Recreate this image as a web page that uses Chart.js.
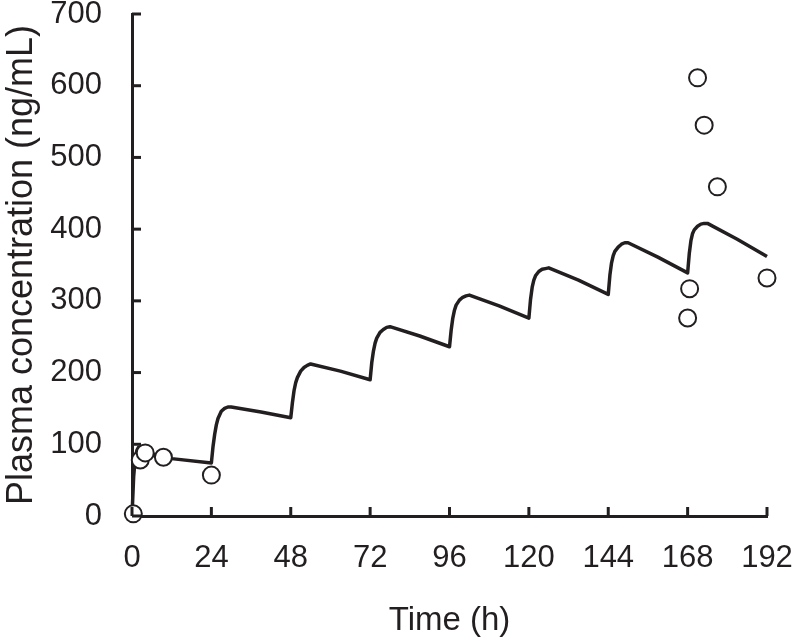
<!DOCTYPE html>
<html>
<head>
<meta charset="utf-8">
<script src="https://cdn.jsdelivr.net/npm/chart.js@4/dist/chart.umd.min.js"></script>
<style>
html,body{margin:0;padding:0;background:#fff;}
#wrap{width:794px;height:641px;position:relative;}
</style>
</head>
<body>
<div id="wrap"><canvas id="c" width="794" height="641"></canvas></div>
<script>
// Simulated (model) concentration curve
const simTime = [
  0, 0.5, 1, 1.5, 2, 3, 5, 8, 12, 24,
  24.5, 25, 25.5, 26, 27, 28, 29, 30, 39, 48,
  48.5, 49, 49.5, 50, 51, 52, 53, 54, 63, 72,
  72.5, 73, 73.5, 74, 75, 76, 77, 78, 87, 96,
  96.5, 97, 97.5, 98, 99, 100, 101, 102, 111, 120,
  120.5, 121, 121.5, 122, 123, 124, 125, 126, 135, 144,
  144.5, 145, 145.5, 146, 147, 148, 149, 150, 159, 168,
  168.5, 169, 169.5, 170, 171, 172, 173, 174, 183, 192
];
const simConc = [
  0, 55, 82, 92, 96, 95, 89, 83, 80, 74,
  97, 114, 127, 136, 146, 150, 152, 152, 145, 137,
  158, 175, 186, 193, 202, 207, 210, 212, 202, 190,
  214, 230, 241, 248, 256, 260, 263, 264, 251, 236,
  259, 276, 287, 294, 301, 305, 307, 308, 293, 276,
  302, 319, 329, 335, 341, 344, 345, 346, 329, 309,
  336, 353, 363, 369, 375, 379, 381, 381, 361, 339,
  366, 384, 394, 399, 404, 407, 408, 408, 386, 362
];
// Observed concentrations (open circles)
const obsTime = [0.4, 2.5, 4, 9.5, 24, 168, 168.6, 171, 173, 177, 192];
const obsConc = [3, 78, 88, 82, 57, 276, 317, 611, 545, 459, 332];

const xTicks = [0, 24, 48, 72, 96, 120, 144, 168, 192];
const yTicks = [0, 100, 200, 300, 400, 500, 600, 700];
const xTitle = 'Time (h)';
const yTitle = 'Plasma concentration (ng/mL)';

const INK = '#231f20';
const FONT = '"Liberation Sans", Arial, sans-serif';

const simData = simTime.map((t, i) => ({x: t, y: simConc[i]}));
const obsData = obsTime.map((t, i) => ({x: t, y: obsConc[i]}));

const inwardTicks = {
  id: 'inwardTicks',
  afterDatasetsDraw(chart) {
    const ctx = chart.ctx;
    const xs = chart.scales.x, ys = chart.scales.y;
    const a = chart.chartArea;
    ctx.save();
    ctx.strokeStyle = INK;
    ctx.lineWidth = 3;
    ctx.lineCap = 'butt';
    xTicks.forEach(v => {
      const px = xs.getPixelForValue(v);
      ctx.beginPath(); ctx.moveTo(px, a.bottom); ctx.lineTo(px, a.bottom - 9); ctx.stroke();
    });
    yTicks.forEach(v => {
      const py = ys.getPixelForValue(v);
      ctx.beginPath(); ctx.moveTo(a.left, py); ctx.lineTo(a.left + 9, py); ctx.stroke();
    });
    ctx.restore();
  }
};

new Chart(document.getElementById('c'), {
  type: 'scatter',
  data: {
    datasets: [
      {
        label: 'Observed',
        data: obsData,
        showLine: false,
        clip: false,
        pointStyle: 'circle',
        pointRadius: 8.5,
        pointBorderWidth: 2,
        pointBorderColor: INK,
        pointBackgroundColor: '#ffffff',
        order: 0
      },
      {
        label: 'Simulated',
        data: simData,
        showLine: true,
        clip: false,
        borderColor: INK,
        borderWidth: 3.5,
        borderJoinStyle: 'round',
        pointRadius: 0,
        tension: 0,
        fill: false,
        order: 1
      }
    ]
  },
  options: {
    responsive: false,
    animation: false,
    devicePixelRatio: 1,
    layout: { padding: { left: 0, right: 27, top: 14, bottom: 0 } },
    plugins: { legend: { display: false }, tooltip: { enabled: false } },
    scales: {
      x: {
        type: 'linear',
        min: 0, max: 192,
        afterBuildTicks(s) { s.ticks = xTicks.map(v => ({value: v})); },
        afterFit(s) { s.height = 125; s.paddingLeft = 0; s.paddingRight = 0; },
        grid: { display: true, drawOnChartArea: false, drawTicks: false },
        border: { display: true, color: INK, width: 3 },
        ticks: { color: INK, font: { family: FONT, size: 31 }, padding: 24, maxRotation: 0, autoSkip: false },
        title: { display: true, text: xTitle, color: INK, font: { family: FONT, size: 33 }, padding: { top: 18, bottom: 0 } }
      },
      y: {
        type: 'linear',
        min: 0, max: 700,
        afterBuildTicks(s) { s.ticks = yTicks.map(v => ({value: v})); },
        afterFit(s) { s.width = 132; s.paddingTop = 0; s.paddingBottom = 0; },
        grid: { display: true, drawOnChartArea: false, drawTicks: false },
        border: { display: true, color: INK, width: 3 },
        ticks: { color: INK, font: { family: FONT, size: 31 }, padding: 30 },
        title: { display: true, text: yTitle, color: INK, font: { family: FONT, size: 36 }, padding: { top: 0, bottom: 0 } }
      }
    }
  },
  plugins: [inwardTicks]
});
</script>
</body>
</html>
